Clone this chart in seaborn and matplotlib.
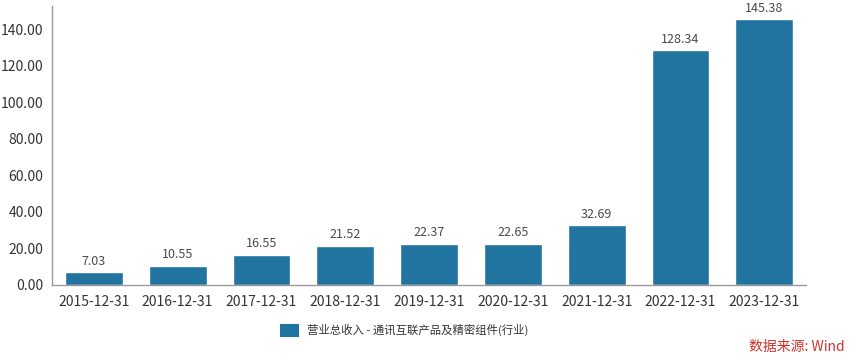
import matplotlib
matplotlib.use("Agg")
import matplotlib.pyplot as plt
import seaborn as sns
import pandas as pd
from matplotlib.patches import Patch

dates = ["2015-12-31", "2016-12-31", "2017-12-31", "2018-12-31", "2019-12-31",
         "2020-12-31", "2021-12-31", "2022-12-31", "2023-12-31"]
values = [7.03, 10.55, 16.55, 21.52, 22.37, 22.65, 32.69, 128.34, 145.38]
series_name = "营业总收入 - 通讯互联产品及精密组件(行业)"
yticks = [0, 20, 40, 60, 80, 100, 120, 140]
source_text = "数据来源: Wind"

sns.set_theme(style="white")
plt.rcParams['font.family'] = ['Noto Sans CJK SC', 'DejaVu Sans']

color = "#21749f"
df = pd.DataFrame({"date": dates, "value": values, "series": series_name})

fig = plt.figure(figsize=(8.65, 3.63), dpi=100)
ax = fig.add_axes([0.060, 0.215, 0.872, 0.768])
sns.barplot(data=df, x="date", y="value", hue="series", palette=[color],
            width=0.69, ax=ax, legend=False, saturation=1)

ax.set_xlim(-0.5, len(dates) - 0.5)
ax.set_ylim(0, 152.5)
ax.set_yticks(yticks)
ax.set_yticklabels([f"{v:.2f}" for v in yticks])
ax.set_xlabel("")
ax.set_ylabel("")

for s in ["top", "right"]:
    ax.spines[s].set_visible(False)
for s in ["left", "bottom"]:
    ax.spines[s].set_color("#9a9a9a")
    ax.spines[s].set_linewidth(1.0)
ax.tick_params(axis="both", which="both", length=5, color="#9a9a9a",
               labelsize=10, labelcolor="#333333", direction="out")
ax.tick_params(axis="y", pad=1)
ax.tick_params(axis="x", pad=2)

for i, v in enumerate(values):
    ax.text(i, v + 2.5, f"{v:.2f}", ha="center", va="bottom",
            fontsize=9, color="#4a4a4a")

handle = Patch(facecolor=color, edgecolor=color, joinstyle="round", linewidth=1.5)
leg = fig.legend([handle], [series_name], loc="center", bbox_to_anchor=(0.468, 0.09),
                 frameon=False, fontsize=8.2, handlelength=1.5, handleheight=1.1,
                 handletextpad=0.8)
for t in leg.get_texts():
    t.set_color("#333333")

fig.text(0.977, 0.045, source_text, ha="right", va="center", color="#d2312c", fontsize=10)

fig.savefig("out.png", dpi=100)
